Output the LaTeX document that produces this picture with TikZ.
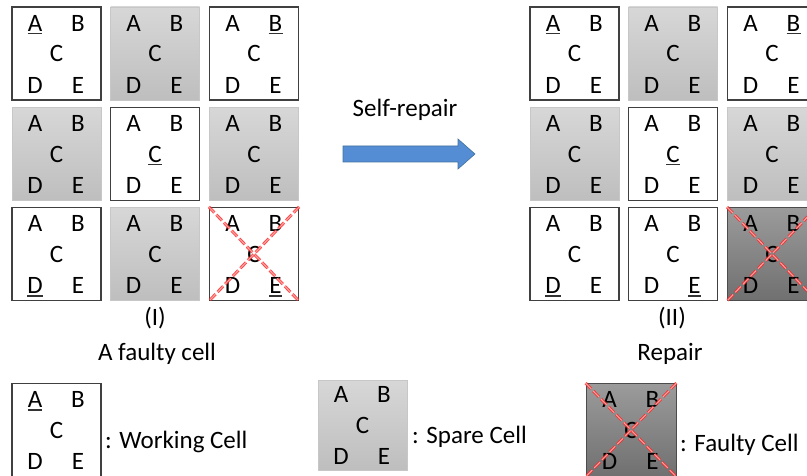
\documentclass[tikz,border=0pt]{standalone}
\usepackage{fontspec}
\setmainfont{Carlito}
\usetikzlibrary{calc}

\definecolor{sparetop}{RGB}{215,215,215}
\definecolor{sparebot}{RGB}{190,190,190}
\definecolor{faultytop}{RGB}{155,155,155}
\definecolor{faultybot}{RGB}{112,112,112}
\definecolor{arrowblue}{RGB}{84,141,212}
\definecolor{arrowedge}{RGB}{65,113,156}

\tikzset{
    cellbox/.style={rectangle, minimum width=89pt, minimum height=93pt, inner sep=0pt},
    working/.style={cellbox, draw=black!75, line width=1.4pt, fill=white},
    spare/.style={cellbox, draw=black!22, line width=0.6pt, top color=sparetop, bottom color=sparebot},
    faulty/.style={cellbox, draw=black!70, line width=0.8pt, top color=faultytop, bottom color=faultybot},
    letter/.style={inner sep=0pt, anchor=center},
    uline/.style={line width=1.4pt, black!80},
    cross/.style={draw=red!85, line width=0.9pt, double=red!30, double distance=1.1pt,
                  dash pattern=on 8pt off 3pt, opacity=0.85},
    caption/.style={inner sep=0pt}
}

% the five letters of a cell, named <cell>-A ... <cell>-E
\newcommand{\abcde}[1]{%
    \foreach \l/\dx/\dy in {A/-21.5/-30.5, B/21.5/-30.5, C/0/0, D/-21.5/31.5, E/21.5/31.5}
        \node [letter] (#1-\l) at ($(#1.center)+(\dx,\dy)$) {\l};
}
\newcommand{\ul}[1]{\draw [uline] ([yshift=-2.5pt]#1.base west) -- ([yshift=-2.5pt]#1.base east);}
\newcommand{\xout}[1]{%
    \draw [cross] (#1.north west) -- (#1.south east);
    \draw [cross] (#1.north east) -- (#1.south west);
}

\begin{document}
\begin{tikzpicture}[x=1pt, y=-1pt, font=\fontsize{25}{30}\selectfont]
    \clip (0, 0) rectangle (807, 476);

    % (I) array with a faulty cell
    \node [working] (L11) at ( 56.5,  53.5){}; \abcde{L11} \ul{L11-A}
    \node [spare]   (L12) at (155,    53.5){}; \abcde{L12}
    \node [working] (L13) at (254,    53.5){}; \abcde{L13} \ul{L13-B}
    \node [spare]   (L21) at ( 56.5, 154  ){}; \abcde{L21}
    \node [working] (L22) at (155,   154  ){}; \abcde{L22} \ul{L22-C}
    \node [spare]   (L23) at (254,   154  ){}; \abcde{L23}
    \node [working] (L31) at ( 56.5, 254  ){}; \abcde{L31} \ul{L31-D}
    \node [spare]   (L32) at (155,   254  ){}; \abcde{L32}
    \node [working] (L33) at (254,   254  ){}; \abcde{L33} \ul{L33-E}
    \xout{L33}

    \node [caption] (capI)  at (155, 318){(I)};
    \node [caption] (textI) at (157, 354){A faulty cell};

    % self-repair arrow
    \node [caption] (selfrep) at (405, 110){Self-repair};
    \draw [fill=arrowblue, draw=arrowedge, line width=0.6pt]
        (343, 146) -- (458, 146) -- (458, 139) -- (475, 154) -- (458, 169)
        -- (458, 162) -- (343, 162) -- cycle;

    % (II) array after repair
    \node [working] (R11) at (574.5,  53.5){}; \abcde{R11} \ul{R11-A}
    \node [spare]   (R12) at (673,    53.5){}; \abcde{R12}
    \node [working] (R13) at (772,    53.5){}; \abcde{R13} \ul{R13-B}
    \node [spare]   (R21) at (574.5, 154  ){}; \abcde{R21}
    \node [working] (R22) at (673,   154  ){}; \abcde{R22} \ul{R22-C}
    \node [spare]   (R23) at (772,   154  ){}; \abcde{R23}
    \node [working] (R31) at (574.5, 254  ){}; \abcde{R31} \ul{R31-D}
    \node [working] (R32) at (673,   254  ){}; \abcde{R32} \ul{R32-E}
    \node [faulty]  (R33) at (772,   254  ){}; \abcde{R33}
    \xout{R33}

    \node [caption] (capII)  at (672, 318){(II)};
    \node [caption] (textII) at (670, 354){Repair};

    % legend
    \node [working] (keyW) at ( 56.5, 430){}; \abcde{keyW} \ul{keyW-A}
    \node [caption, anchor=west] (keyWtext) at (105, 442){: Working Cell};

    \node [spare, minimum height=90pt] (keyS) at (362.5, 425){}; \abcde{keyS}
    \node [caption, anchor=west] (keyStext) at (412, 437){: Spare Cell};

    \node [faulty, minimum width=90pt] (keyF) at (631, 430){}; \abcde{keyF}
    \xout{keyF}
    \node [caption, anchor=west] (keyFtext) at (680, 445){: Faulty Cell};
\end{tikzpicture}
\end{document}
